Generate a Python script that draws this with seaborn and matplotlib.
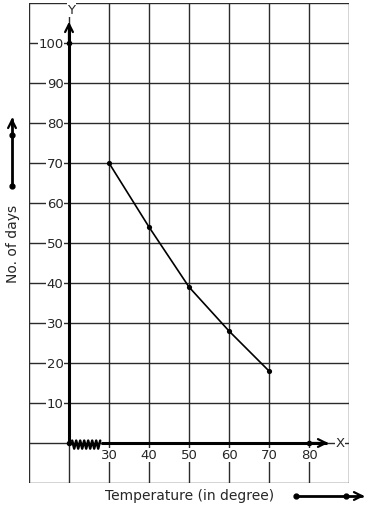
import numpy as np
import pandas as pd
import seaborn as sns
import matplotlib.pyplot as plt
from matplotlib.patches import FancyArrowPatch

# data
temperature = [30, 40, 50, 60, 70]
days = [70, 54, 39, 28, 18]
x_ticks = [30, 40, 50, 60, 70, 80]
y_ticks = [10, 20, 30, 40, 50, 60, 70, 80, 90, 100]
axis_points_x = [20, 20, 80]
axis_points_y = [100, 0, 0]

df = pd.DataFrame({"temperature": temperature, "days": days})

sns.set_style("white")
plt.rcParams["font.family"] = ["DejaVu Sans"]

fig = plt.figure(figsize=(3.71, 5.10), dpi=100)
ax = fig.add_axes([29 / 371, 26 / 510, 320 / 371, 480 / 510])
ax.set_xlim(10, 90)
ax.set_ylim(-10, 110)

# graph paper grid
for gx in range(10, 91, 10):
    ax.axvline(gx, color="#2b2b2b", lw=1.0, zorder=1)
for gy in range(-10, 111, 10):
    ax.axhline(gy, color="#2b2b2b", lw=1.0, zorder=1)
for s in ax.spines.values():
    s.set_visible(False)
ax.set_xticks([])
ax.set_yticks([])

# axes with arrows
ax.plot([20, 20], [0, 104], color="black", lw=2.2, zorder=3, solid_capstyle="butt")
ax.plot([28, 84.5], [0, 0], color="black", lw=2.2, zorder=3, solid_capstyle="butt")
ax.annotate("", xy=(20, 106), xytext=(20, 100),
            arrowprops=dict(arrowstyle="->", lw=1.6, color="black", mutation_scale=14), zorder=4)
ax.annotate("", xy=(85.5, 0), xytext=(80, 0),
            arrowprops=dict(arrowstyle="->", lw=1.6, color="black", mutation_scale=14), zorder=4)
ax.text(20.6, 108.3, "Y", ha="center", va="center", fontsize=9.5,
        bbox=dict(facecolor="white", edgecolor="none", pad=0.5), zorder=5)
ax.text(87.8, 0, "X", ha="center", va="center", fontsize=9.5,
        bbox=dict(facecolor="white", edgecolor="none", pad=0.5), zorder=5)

# kink (axis break) near the origin
zx = np.linspace(20.8, 27.8, 15)
zy = np.where(np.arange(15) % 2 == 0, 0.6, -1.4)
ax.plot(zx, zy, color="black", lw=1.8, zorder=4)

# tick labels with white background over the grid
for t in y_ticks:
    ax.text(18.6, t, str(t), ha="right", va="center", fontsize=9.5,
            bbox=dict(facecolor="white", edgecolor="none", pad=0.3), zorder=5)
for t in x_ticks:
    ax.text(t, -3.0, str(t), ha="center", va="center", fontsize=9.5,
            bbox=dict(facecolor="white", edgecolor="none", pad=0.3), zorder=5)

# the data
sns.lineplot(data=df, x="temperature", y="days", color="black", lw=1.2, ax=ax, zorder=6)
sns.scatterplot(data=df, x="temperature", y="days", color="black", s=14,
                edgecolor="black", linewidth=0, ax=ax, zorder=7)
ax.scatter(axis_points_x, axis_points_y, color="black", s=16, linewidths=0, zorder=7)
ax.set_xlabel("")
ax.set_ylabel("")

# outer labels and scale arrows
fig.text(0.035, 0.522, "No. of days", rotation=90, ha="center", va="center", fontsize=10)
fig.text(0.51, 0.027, "Temperature (in degree)", ha="center", va="center", fontsize=10)
fig.add_artist(plt.Line2D([12 / 371, 12 / 371], [1 - 187 / 510, 1 - 120 / 510], color="black", lw=2))
fig.patches.append(FancyArrowPatch(
    (12 / 371, 1 - 130 / 510), (12 / 371, 1 - 116 / 510), transform=fig.transFigure,
    arrowstyle="->", mutation_scale=14, lw=1.6, color="black"))
fig.add_artist(plt.Line2D([12 / 371, 12 / 371], [1 - 187 / 510, 1 - 136 / 510], marker="o",
                          ms=3.5, linestyle="none", color="black"))
fig.add_artist(plt.Line2D([296 / 371, 362 / 371], [1 - 497 / 510, 1 - 497 / 510], color="black", lw=2))
fig.patches.append(FancyArrowPatch(
    (355 / 371, 1 - 497 / 510), (367 / 371, 1 - 497 / 510), transform=fig.transFigure,
    arrowstyle="->", mutation_scale=14, lw=1.6, color="black"))
fig.add_artist(plt.Line2D([296 / 371, 346 / 371], [1 - 497 / 510, 1 - 497 / 510], marker="o",
                          ms=3.5, linestyle="none", color="black"))

fig.savefig("out.png", dpi=100)
